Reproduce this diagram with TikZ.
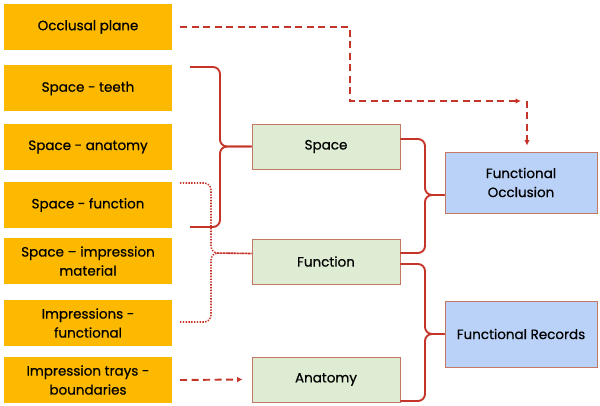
\documentclass[tikz,border=0pt]{standalone}
\usepackage{fontspec}
\setmainfont{Poppins}[FakeBold=0.6]
\usetikzlibrary{arrows.meta}
\definecolor{gold}{RGB}{252,185,0}
\definecolor{sage}{RGB}{222,236,212}
\definecolor{sky}{RGB}{186,210,248}
\definecolor{rim}{RGB}{196,120,100}
\definecolor{brick}{RGB}{196,52,40}

\begin{document}
\begin{tikzpicture}[x=1pt,y=-1pt,>=Latex,
  srcbox/.style={fill=gold,minimum width=168pt,minimum height=46pt,align=center,font=\fontsize{13.5}{19}\selectfont,inner sep=2pt},
  midbox/.style={draw=rim,line width=0.8pt,fill=sage,minimum width=148pt,minimum height=45pt,align=center,font=\fontsize{13.5}{19}\selectfont},
  endbox/.style={draw=rim,line width=0.8pt,fill=sky,minimum width=152pt,align=center,font=\fontsize{13.5}{19}\selectfont},
  brace/.style={draw=brick,line width=1.9pt,rounded corners=7pt},
  dotbrace/.style={draw=brick,line width=1.6pt,dash pattern=on 1.4pt off 1.4pt,rounded corners=7pt},
  flow/.style={draw=brick,line width=1.9pt,dash pattern=on 7pt off 4.5pt,-{Latex[length=5.5pt,width=5.5pt]}}]
\useasboundingbox (0,0) rectangle (600,406);
% left column
\node[srcbox] (occ) at (88,27) {Occlusal plane};
\node[srcbox] (teeth) at (88,88.5) {Space - teeth};
\node[srcbox] (anat) at (88,147) {Space - anatomy};
\node[srcbox] (func) at (88,205) {Space - function};
\node[srcbox] (mat) at (88,261) {Space -- impression\\material};
\node[srcbox] (impr) at (88,323) {Impressions -\\functional};
\node[srcbox] (trays) at (88,380) {Impression trays -\\boundaries};
% middle column
\node[midbox] (space) at (326,146.5) {Space};
\node[midbox] (function) at (326,261.5) {Function};
\node[midbox] (anatomy) at (326,379.5) {Anatomy};
% right column
\node[endbox,minimum height=61pt] (occlusion) at (521,182.5) {Functional\\Occlusion};
\node[endbox,minimum height=66pt] (records) at (521,334) {Functional Records};
% free ends
\coordinate (t1) at (190,67);
\coordinate (b1) at (190,227);
\coordinate (t2) at (180,183);
\coordinate (b2) at (180,322);
\coordinate (bend) at (350,101);
\coordinate (drop) at (527,101);
% braces
\draw[brace] (t1) -| (220,146.5) -- (space.west);
\draw[brace] (b1) -| (220,146.5) -- (space.west);
\draw[dotbrace] (t2) -| (211,253) -- ([yshift=8pt]function.west);
\draw[dotbrace] (b2) -| (211,253) -- ([yshift=8pt]function.west);
\draw[brace] ([yshift=7.5pt]space.east) -| (425,195) -- ([yshift=-12.5pt]occlusion.west);
\draw[brace] ([yshift=8.5pt]function.east) -| (425,195) -- ([yshift=-12.5pt]occlusion.west);
\draw[brace] ([yshift=-2.5pt]function.east) -| (425,334) -- (records.west);
\draw[brace] ([yshift=-21.5pt]anatomy.east) -| (425,334) -- (records.west);
% dashed arrows
\draw[flow] ([xshift=8pt]occ.east) -| (bend) -- ([xshift=-6pt]drop);
\draw[flow] (drop) -- ([xshift=6pt,yshift=6pt]occlusion.north);
\draw[flow] ([xshift=8pt]trays.east) -- ([xshift=-9pt]anatomy.west);
\end{tikzpicture}
\end{document}
